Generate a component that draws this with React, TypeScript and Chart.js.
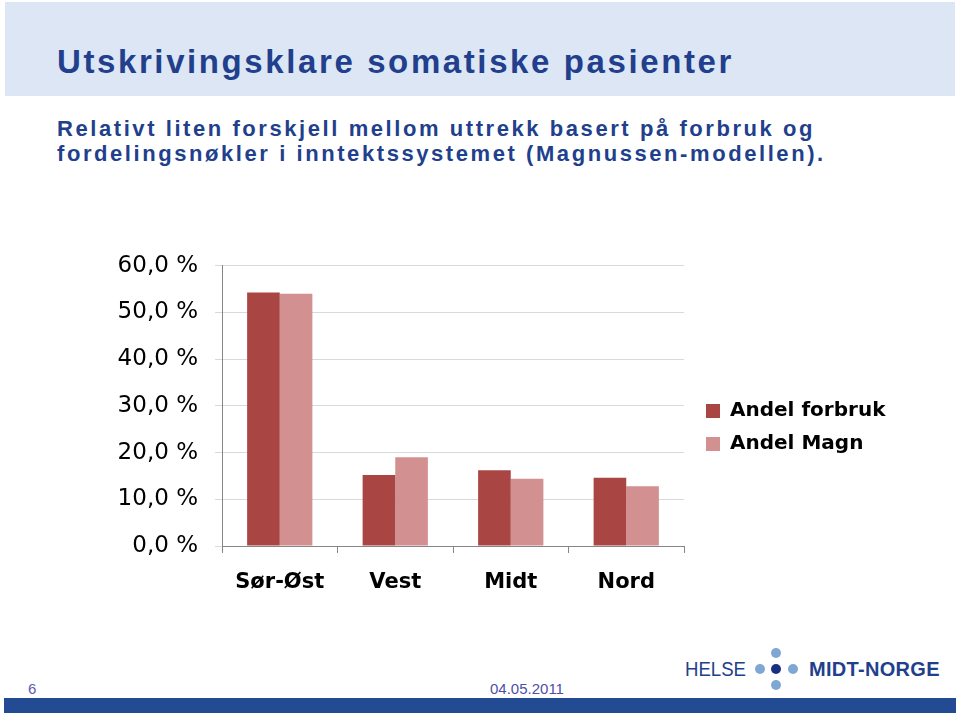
import React, { useEffect, useRef } from "react";
import { Chart, registerables } from "chart.js";

Chart.register(...registerables);

const categories = ["Sør-Øst", "Vest", "Midt", "Nord"];
const andelForbruk = [54.3, 15.2, 16.2, 14.6];
const andelMagn = [54.0, 19.0, 14.4, 12.8];
const seriesLabels = ["Andel forbruk", "Andel Magn"];
const yMin = 0;
const yMax = 60;
const yStep = 10;

const titleText = "Utskrivingsklare somatiske pasienter";
const subtitleLines = [
  "Relativt liten forskjell mellom uttrekk basert på forbruk og",
  "fordelingsnøkler i inntektssystemet (Magnussen-modellen).",
];
const pageNumber = "6";
const dateText = "04.05.2011";

const navy = "#213f8c";

export default function App() {
  const ref = useRef<HTMLCanvasElement>(null);

  useEffect(() => {
    if (!ref.current) return;
    const legendPlace = {
      id: "legendPlace",
      afterLayout(chart: any) {
        const l = chart.legend;
        if (l) {
          const w = l.width;
          l.left = chart.chartArea.right + 9;
          l.right = l.left + w;
          l.top = 32;
          l.bottom = 353;
        }
      },
    };
    const chart = new Chart(ref.current, {
      type: "bar",
      data: {
        labels: categories,
        datasets: [
          {
            label: seriesLabels[0],
            data: andelForbruk,
            backgroundColor: "#a94643",
            borderWidth: 0,
            barPercentage: 1,
            categoryPercentage: 0.565,
          },
          {
            label: seriesLabels[1],
            data: andelMagn,
            backgroundColor: "#d29190",
            borderWidth: 0,
            barPercentage: 1,
            categoryPercentage: 0.565,
          },
        ],
      },
      options: {
        animation: false,
        responsive: false,
        maintainAspectRatio: false,
        layout: { padding: { left: 0, top: 20, right: 26, bottom: 0 } },
        plugins: {
          title: { display: false },
          tooltip: { enabled: false },
          legend: {
            display: true,
            position: "right",
            align: "center",
            maxWidth: 200,
            labels: {
              boxWidth: 14,
              boxHeight: 14,
              padding: 13,
              color: "#000",
              font: { family: "DejaVu Sans", size: 20, weight: "bold" },
            },
          },
        },
        scales: {
          x: {
            afterFit(scale: any) {
              scale.height = 60;
            },
            grid: {
              display: true,
              drawOnChartArea: false,
              drawTicks: true,
              tickLength: 7,
              color: "#868686",
              offset: true,
            },
            border: { display: true, color: "#868686", width: 1 },
            ticks: {
              color: "#000",
              padding: 17,
              font: { family: "DejaVu Sans", size: 21, weight: "bold" },
            },
          },
          y: {
            min: yMin,
            max: yMax,
            afterFit(scale: any) {
              scale.width = 122;
            },
            grid: {
              color: "#d9d9d9",
              tickLength: 7,
              drawTicks: true,
            },
            border: { display: true, color: "#868686", width: 1 },
            ticks: {
              stepSize: yStep,
              color: "#000",
              padding: 17,
              font: { family: "DejaVu Sans", size: 23 },
              callback: (v: any) => Number(v).toFixed(1).replace(".", ",") + " %",
            },
          },
        },
      },
      plugins: [legendPlace],
    });
    return () => chart.destroy();
  }, []);

  const dot = (x: number, y: number, c: string, r = 5) => (
    <div
      style={{
        position: "absolute",
        left: x - r,
        top: y - r,
        width: r * 2,
        height: r * 2,
        borderRadius: "50%",
        background: c,
      }}
    />
  );

  return (
    <div
      style={{
        position: "absolute",
        left: 0,
        top: 0,
        width: 960,
        height: 716,
        background: "#fff",
        overflow: "hidden",
        fontFamily: "'Liberation Sans', Arial, sans-serif",
      }}
    >
      <div
        style={{
          position: "absolute",
          left: 5,
          top: 2,
          width: 950,
          height: 94,
          background: "#dce6f5",
        }}
      />
      <div
        style={{
          position: "absolute",
          left: 57,
          top: 42,
          fontSize: 33,
          lineHeight: "40px",
          fontWeight: "bold",
          color: navy,
          letterSpacing: "2.6px",
          whiteSpace: "nowrap",
        }}
      >
        {titleText}
      </div>
      <div
        style={{
          position: "absolute",
          left: 57,
          top: 117,
          fontSize: 22,
          lineHeight: "24.5px",
          fontWeight: "bold",
          color: navy,
          letterSpacing: "2.57px",
          whiteSpace: "nowrap",
        }}
      >
        {subtitleLines.map((l, i) => (
          <div key={i}>{l}</div>
        ))}
      </div>

      <div style={{ position: "absolute", left: 100, top: 235, width: 810, height: 371 }}>
        <canvas ref={ref} width={810} height={371} style={{ width: 810, height: 371, display: "block" }} />
      </div>

      <div
        style={{
          position: "absolute",
          left: 685,
          top: 657,
          fontSize: 20,
          lineHeight: "24px",
          color: navy,
          transform: "scaleX(0.93)",
          transformOrigin: "left top",
          whiteSpace: "nowrap",
        }}
      >
        HELSE
      </div>
      {dot(760, 669, "#7ea7d3")}
      {dot(792.5, 669, "#7ea7d3")}
      {dot(776, 653, "#7ea7d3")}
      {dot(776, 685, "#7ea7d3")}
      {dot(776, 669, "#1b2f82")}
      <div
        style={{
          position: "absolute",
          left: 809,
          top: 657,
          fontSize: 20,
          lineHeight: "24px",
          fontWeight: "bold",
          color: navy,
          letterSpacing: "0.3px",
          whiteSpace: "nowrap",
        }}
      >
        MIDT-NORGE
      </div>

      <div
        style={{
          position: "absolute",
          left: 28,
          top: 680,
          fontSize: 15,
          lineHeight: "17px",
          color: "#5b5bb0",
        }}
      >
        {pageNumber}
      </div>
      <div
        style={{
          position: "absolute",
          left: 490,
          top: 680,
          fontSize: 15,
          lineHeight: "17px",
          color: "#4f4fa8",
        }}
      >
        {dateText}
      </div>
      <div
        style={{
          position: "absolute",
          left: 4,
          top: 698,
          width: 952,
          height: 15,
          background: "#234b93",
        }}
      />
    </div>
  );
}
